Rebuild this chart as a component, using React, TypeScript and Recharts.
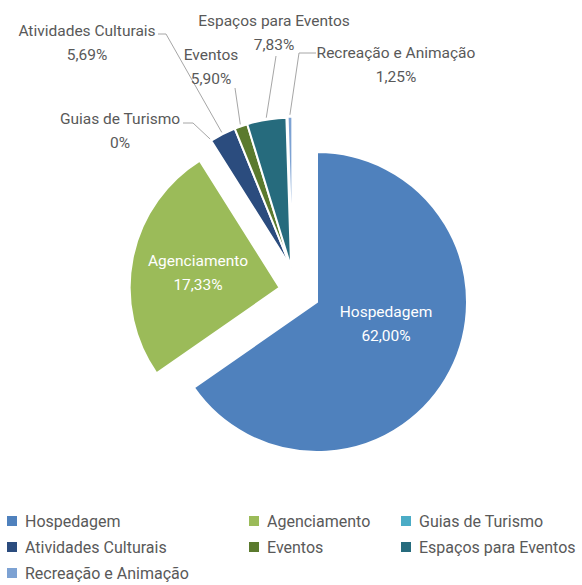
import React from 'react';
import { Cell, Pie, PieChart } from 'recharts';

// categories in drawing order (clockwise from 12 o'clock)
const categories = [
  'Hospedagem',
  'Agenciamento',
  'Guias de Turismo',
  'Atividades Culturais',
  'Eventos',
  'Espaços para Eventos',
  'Recreação e Animação',
];

// slice sizes as they are drawn (the printed shares don't match the drawing)
const sliceSizes = [65, 25.6, 0, 2.8, 1.4, 4.2, 0.5];

// shares printed on the labels
const printedShares = ['62,00%', '17,33%', '0%', '5,69%', '5,90%', '7,83%', '1,25%'];

const colors = ['#4F81BD', '#9BBB59', '#4BACC6', '#2B4C7E', '#5B7A2E', '#266B7D', '#7DA2D3'];

const data = categories.map((name, i) => ({ name, value: sliceSizes[i], share: printedShares[i] }));

const FONT = 'Roboto, "Noto Sans", sans-serif';
const CX = 317;
const CY = 302;
const R = 150;
const START = 90;
const END = -270;

// explode distance, optional fixed direction (deg) - otherwise along the slice mid angle
const explode: { dist: number; dir?: number }[] = [
  { dist: 0 },
  { dist: 40, dir: 159 },
  { dist: 43, dir: 127 },
  { dist: 43, dir: 127 },
  { dist: 43, dir: 127 },
  { dist: 43, dir: 127 },
  { dist: 43, dir: 125 },
];

// label placement (chart coords) and leader line elbows
const labelLayout: { x: number; y: number; inside?: boolean; line?: number[][] }[] = [
  { x: 386, y: 312, inside: true },
  { x: 198, y: 261, inside: true },
  { x: 120, y: 119, line: [[183, 123], [193, 123]] },
  { x: 87, y: 31, line: [[158, 34], [166, 34]] },
  { x: 211, y: 55, line: [[235, 88]] },
  { x: 274, y: 21, line: [[276, 56]] },
  { x: 396, y: 53, line: [[316, 53], [299, 53]] },
];

const total = sliceSizes.reduce((a, b) => a + b, 0);
const midAngles = sliceSizes.map((v, i) => {
  const before = sliceSizes.slice(0, i).reduce((a, b) => a + b, 0);
  return START + ((END - START) * (before + v / 2)) / total;
});

const offsetOf = (i: number) => {
  const e = explode[i];
  const a = ((e.dir ?? midAngles[i]) * Math.PI) / 180;
  return { dx: e.dist * Math.cos(a), dy: -e.dist * Math.sin(a) };
};

const renderLabel = (props: any) => {
  const { index, cx, cy, midAngle, outerRadius } = props;
  const lay = labelLayout[index];
  const off = offsetOf(index);
  const rad = (-midAngle * Math.PI) / 180;
  const tip = [
    cx + off.dx + (outerRadius + 2) * Math.cos(rad),
    cy + off.dy + (outerRadius + 2) * Math.sin(rad),
  ];
  const color = lay.inside ? '#ffffff' : '#595959';
  const pts = lay.line ? [...lay.line, tip].map((p) => p.join(',')).join(' ') : '';
  return (
    <g key={`lbl-${index}`}>
      {lay.line && <polyline points={pts} fill="none" stroke="#a6a6a6" strokeWidth={1} />}
      <text x={lay.x} y={lay.y} textAnchor="middle" dominantBaseline="central" fill={color} fontSize={15.5} fontFamily={FONT}>
        {data[index].name}
      </text>
      <text x={lay.x} y={lay.y + 24} textAnchor="middle" dominantBaseline="central" fill={color} fontSize={15.5} fontFamily={FONT}>
        {data[index].share}
      </text>
    </g>
  );
};

const LegendBlock = () => (
  <div
    style={{
      position: 'absolute',
      top: 508,
      left: 7,
      display: 'grid',
      gridTemplateColumns: '242px 152px auto',
      gridAutoRows: '26px',
      fontFamily: FONT,
      fontSize: 16,
      color: '#595959',
    }}
  >
    {categories.map((name, i) => (
      <div key={name} style={{ display: 'flex', alignItems: 'center', whiteSpace: 'nowrap' }}>
        <span style={{ width: 10, height: 10, background: colors[i], marginRight: 8, display: 'inline-block' }} />
        {name}
      </div>
    ))}
  </div>
);

export default function App() {
  return (
    <div style={{ position: 'relative', width: 582, height: 585, background: '#fff', fontFamily: FONT }}>
      <style>{'body{margin:0}'}</style>
      <PieChart width={582} height={505} margin={{ top: 0, right: 0, bottom: 0, left: 0 }}>
        {data.map((d, i) =>
          d.value > 0 ? (
            <Pie
              key={d.name}
              data={data}
              dataKey="value"
              nameKey="name"
              cx={CX + offsetOf(i).dx}
              cy={CY + offsetOf(i).dy}
              outerRadius={R}
              startAngle={START}
              endAngle={END}
              labelLine={false}
              isAnimationActive={false}
            >
              {data.map((c, j) => (
                <Cell
                  key={c.name}
                  fill={j === i ? colors[j] : 'transparent'}
                  stroke={j === i ? '#ffffff' : 'none'}
                  strokeWidth={j === i ? 2 : 0}
                />
              ))}
            </Pie>
          ) : null
        )}
        <Pie
          data={data}
          dataKey="value"
          nameKey="name"
          cx={CX}
          cy={CY}
          outerRadius={R}
          startAngle={START}
          endAngle={END}
          fill="none"
          stroke="none"
          label={renderLabel}
          labelLine={false}
          isAnimationActive={false}
        />
      </PieChart>
      <LegendBlock />
    </div>
  );
}
